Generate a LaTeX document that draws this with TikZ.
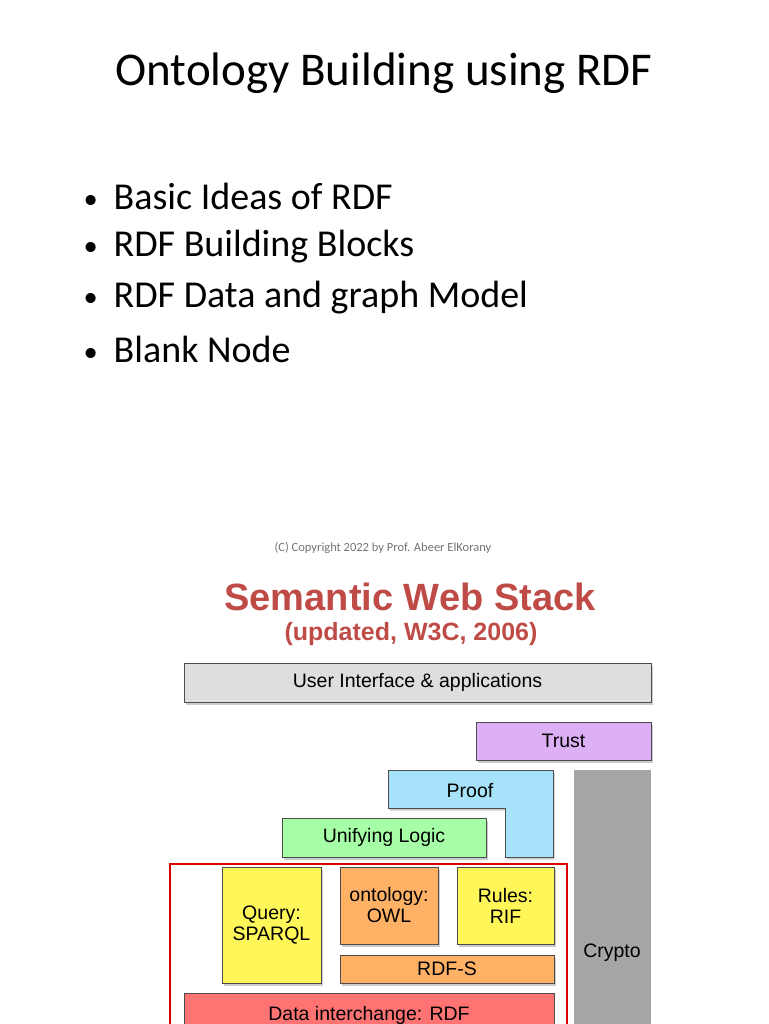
\documentclass[tikz,border=0pt]{standalone}
\usepackage{fontspec}
\setmainfont{Carlito}
\newfontfamily\arialf{Liberation Sans}
\usetikzlibrary{shadows}
\definecolor{swred}{HTML}{BF4B47}
\definecolor{trustc}{HTML}{DDB0F5}
\begin{document}
\begin{tikzpicture}[x=1pt,y=-1pt,
  blk/.style={draw=black!70,line width=0.8pt,drop shadow={shadow xshift=1.5pt,shadow yshift=-2.5pt,opacity=0.4},font=\arialf\fontsize{19.5}{21}\selectfont,align=center},
  bul/.style={anchor=west,font=\fontsize{38}{40}\selectfont}]
\useasboundingbox (0,0) rectangle (768,1024);
\node[font=\fontsize{47}{50}\selectfont] (title) at (384,73) {Ontology Building using RDF};
\foreach \t/\y [count=\i] in {Basic Ideas of RDF/196, RDF Building Blocks/247, RDF Data and graph Model/298, Blank Node/349}{
  \node[bul] (b\i) at (80,\y) {\raisebox{1pt}{\scalebox{0.75}{\textbullet}}\hspace{16pt}\t};
}
\node[font=\fontsize{12.5}{14}\selectfont,text=black!55] (copy) at (383,548) {(C) Copyright 2022 by Prof. Abeer ElKorany};
\node[font=\arialf\bfseries\fontsize{38}{42}\selectfont,text=swred] (h1) at (410,597) {Semantic Web Stack};
\node[font=\arialf\bfseries\fontsize{25}{28}\selectfont,text=swred] (h2) at (411,634) {(updated, W3C, 2006)};
% crypto
\fill[black!35] (574,770) rectangle (651,1024);
\node[font=\arialf\fontsize{19.5}{21}\selectfont] (crypto) at (612,953) {Crypto};
% blocks
\node[blk,fill=black!13,minimum width=467pt,minimum height=39pt] (ui) at (417.5,682.5) {User Interface \& applications};
\node[blk,fill=trustc,minimum width=175pt,minimum height=38pt] (trust) at (563.5,741) {Trust};
\fill[cyan!35,draw=black!70,line width=0.8pt,drop shadow={shadow xshift=1.5pt,shadow yshift=-2.5pt,opacity=0.4}] (388,770) -- (553,770) -- (553,857) -- (505,857) -- (505,808) -- (388,808) -- cycle;
\node[font=\arialf\fontsize{19.5}{21}\selectfont] (proof) at (470,791) {Proof};
\node[blk,fill=green!35,minimum width=204pt,minimum height=39pt] (logic) at (384,837.5) {Unifying Logic};
\node[blk,fill=yellow!65,minimum width=99pt,minimum height=116pt] (query) at (271.5,925) {Query:\\SPARQL};
\node[blk,fill=orange!60,minimum width=98pt,minimum height=77pt] (owl) at (389,905.5) {ontology:\\OWL};
\node[blk,fill=yellow!65,minimum width=97pt,minimum height=77pt] (rif) at (505.5,905.5) {Rules:\\RIF};
\node[blk,fill=orange!60,minimum width=214pt,minimum height=28pt] (rdfs) at (447,969) {RDF-S};
\fill[red!55,draw=black!70,line width=0.8pt] (184,993) rectangle (554,1030);
\node[font=\arialf\fontsize{19.5}{21}\selectfont] (rdf) at (369,1015) {Data interchange: RDF};
\draw[red!85!black,line width=1.3pt] (170,1030) -- (170,864) -- (567,864) -- (567,1030);
\end{tikzpicture}
\end{document}
